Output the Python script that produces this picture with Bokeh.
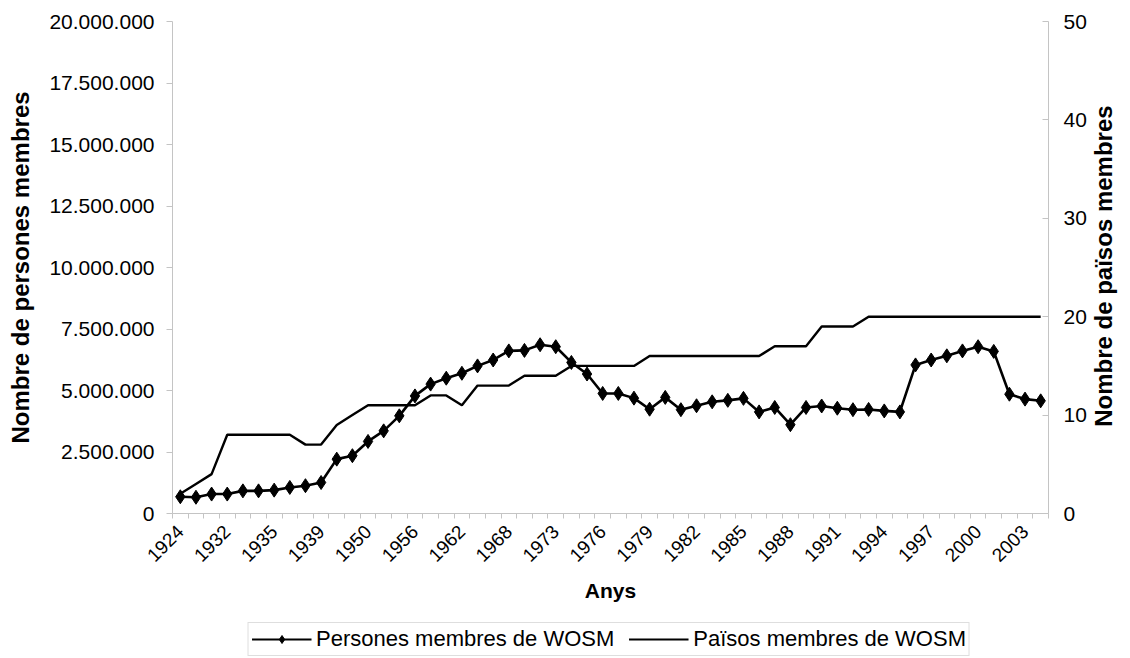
import math
from bokeh.plotting import figure
from bokeh.layouts import column
from bokeh.models import (Range1d, LinearAxis, FixedTicker, CustomJSTickFormatter,
                          Legend, LegendItem, ColumnDataSource)
from bokeh.embed import file_html
from bokeh.resources import INLINE

# ---------------- data ----------------
years = ["1924", "1926", "1929", "1932", "1933", "1934", "1935", "1936", "1937", "1939",
         "1946", "1948", "1950", "1952", "1954", "1956", "1958", "1960", "1962", "1964",
         "1966", "1968", "1970", "1971", "1973", "1974", "1975", "1976", "1977", "1978",
         "1979", "1980", "1981", "1982", "1983", "1984", "1985", "1986", "1987", "1988",
         "1989", "1990", "1991", "1992", "1993", "1994", "1995", "1996", "1997", "1998",
         "1999", "2000", "2001", "2002", "2003", "2004"]

persons = [680000, 660000, 790000, 790000, 920000, 920000, 950000, 1060000, 1130000, 1260000,
           2210000, 2350000, 2930000, 3360000, 3970000, 4780000, 5260000, 5500000, 5700000, 6000000,
           6240000, 6610000, 6630000, 6860000, 6780000, 6140000, 5670000, 4880000, 4880000, 4690000,
           4240000, 4720000, 4220000, 4380000, 4540000, 4600000, 4680000, 4130000, 4310000, 3610000,
           4310000, 4370000, 4280000, 4220000, 4230000, 4170000, 4130000, 6040000, 6240000, 6410000,
           6610000, 6780000, 6590000, 4850000, 4650000, 4580000]

countries = [2, 3, 4, 8, 8, 8, 8, 8, 7, 7,
             9, 10, 11, 11, 11, 11, 12, 12, 11, 13,
             13, 13, 14, 14, 14, 15, 15, 15, 15, 15,
             16, 16, 16, 16, 16, 16, 16, 16, 17, 17,
             17, 19, 19, 19, 20, 20, 20, 20, 20, 20,
             20, 20, 20, 20, 20, 20]

left_ticks = [0, 2500000, 5000000, 7500000, 10000000, 12500000, 15000000, 17500000, 20000000]
right_ticks = [0, 10, 20, 30, 40, 50]

label_every = 3

# ---------------- figure ----------------
FONT = "Liberation Sans"
AXIS_GRAY = "#c4c4c4"
n = len(years)
xs = [i + 0.5 for i in range(n)]
FW, FH = 876, 492

p = figure(frame_width=FW, frame_height=FH,
           output_backend="svg", toolbar_location=None,
           x_range=Range1d(0, n), y_range=Range1d(0, 20000000),
           min_border_left=172, min_border_right=80, min_border_top=21, min_border_bottom=100)
p.extra_y_ranges = {"c": Range1d(0, 50)}
p.outline_line_color = None
p.grid.visible = False

src = ColumnDataSource(dict(x=xs, persons=persons, countries=countries))

l_c = p.line("x", "countries", source=src, y_range_name="c", line_color="black", line_width=2.4)
l_p = p.line("x", "persons", source=src, line_color="black", line_width=2.6)
s_p = p.scatter("x", "persons", source=src, marker="diamond", size=14,
                fill_color="black", line_color="black")

# x axis
xa = p.xaxis[0]
xa.ticker = FixedTicker(ticks=[i + 0.5 for i in range(0, n, label_every)],
                        minor_ticks=list(range(n + 1)))
xa.formatter = CustomJSTickFormatter(args=dict(labels=years),
                                     code="return labels[Math.floor(tick)];")
xa.major_tick_in = 0
xa.major_tick_out = 0
xa.minor_tick_in = 0
xa.minor_tick_out = 5
xa.minor_tick_line_color = AXIS_GRAY
xa.axis_line_color = AXIS_GRAY
xa.major_label_orientation = math.pi / 4
xa.major_label_text_font = FONT
xa.major_label_text_font_size = "19px"
xa.major_label_text_color = "black"
xa.major_label_standoff = 10
xa.axis_label = "Anys"
xa.axis_label_text_font = FONT
xa.axis_label_text_font_style = "bold"
xa.axis_label_text_font_size = "21px"
xa.axis_label_text_color = "black"
xa.axis_label_standoff = 8

# left axis
ya = p.yaxis[0]
ya.ticker = FixedTicker(ticks=left_ticks)
ya.formatter = CustomJSTickFormatter(
    code='return Math.round(tick).toString().replace(/\\B(?=(\\d{3})+(?!\\d))/g, ".");')
ya.major_tick_in = 0
ya.major_tick_out = 6
ya.minor_tick_out = 0
ya.minor_tick_in = 0
ya.major_tick_line_color = AXIS_GRAY
ya.axis_line_color = AXIS_GRAY
ya.major_label_text_font = FONT
ya.major_label_text_font_size = "21px"
ya.major_label_text_color = "black"
ya.major_label_standoff = 12
ya.axis_label = "Nombre de persones membres"
ya.axis_label_text_font = FONT
ya.axis_label_text_font_style = "bold"
ya.axis_label_text_font_size = "24px"
ya.axis_label_text_color = "black"
ya.axis_label_standoff = 12

# right axis; label reads bottom-to-top, anchored at the frame bottom and
# padded with no-break spaces so that it sits centred like the reference
ra = LinearAxis(y_range_name="c", ticker=FixedTicker(ticks=right_ticks))
ra.major_tick_in = 6
ra.major_tick_out = 0
ra.minor_tick_out = 0
ra.minor_tick_in = 0
ra.major_tick_line_color = AXIS_GRAY
ra.axis_line_color = AXIS_GRAY
ra.major_label_text_font = FONT
ra.major_label_text_font_size = "21px"
ra.major_label_text_color = "black"
ra.major_label_standoff = 15
ra.axis_label_text_font = FONT
ra.axis_label_text_font_style = "bold"
ra.axis_label_text_font_size = "24px"
ra.axis_label_text_color = "black"
ra.axis_label_standoff = 14
right_title = "Nombre de països membres"
props = ra.properties()
if "axis_label_orientation" in props and "axis_label_align" in props:
    ra.axis_label_orientation = math.pi / 2
    ra.axis_label_align = "start"
    ra.axis_label = "\u00a0" * 13 + right_title
else:
    ra.axis_label = right_title
p.add_layout(ra, "right")

# ---------------- legend strip below the chart ----------------
lg = figure(width=1130, height=45, output_backend="svg", toolbar_location=None,
            x_range=Range1d(0, 1), y_range=Range1d(0, 1),
            x_axis_location=None, y_axis_location=None,
            min_border_left=104, min_border_right=0, min_border_top=0, min_border_bottom=0)
lg.outline_line_color = None
lg.grid.visible = False

nan_src = ColumnDataSource(dict(x=[float("nan")], y=[float("nan")]))
lg_line_p = lg.line("x", "y", source=nan_src, line_color="black", line_width=2.2)
lg_mark_p = lg.scatter("x", "y", source=nan_src, marker="diamond", size=9,
                       fill_color="black", line_color="black")
lg_line_c = lg.line("x", "y", source=nan_src, line_color="black", line_width=2.2)

legend = Legend(items=[LegendItem(label="Persones membres de WOSM", renderers=[lg_line_p, lg_mark_p]),
                       LegendItem(label="Països membres de WOSM", renderers=[lg_line_c])],
                orientation="horizontal", location="bottom_center",
                label_text_font=FONT, label_text_font_size="22px", label_text_color="black",
                border_line_color="#bdbdbd", border_line_width=1,
                glyph_width=60, glyph_height=20, label_height=20, label_standoff=5, spacing=14,
                padding=3, margin=2)
lg.add_layout(legend)

layout = column(p, lg, spacing=0)

open("out.html", "w").write(file_html(layout, INLINE))
